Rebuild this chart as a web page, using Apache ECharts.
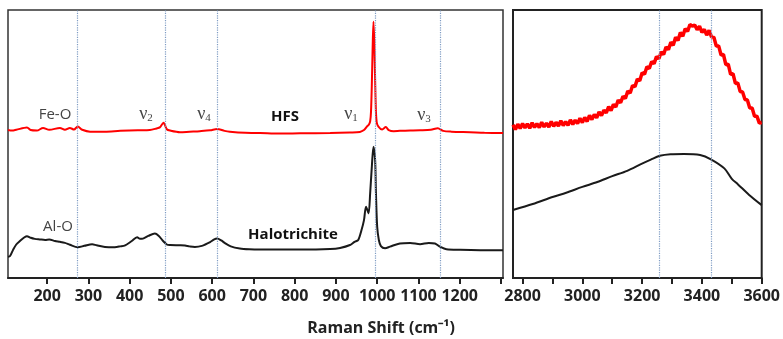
<!DOCTYPE html>
<html><head><meta charset="utf-8">
<script src="https://cdn.jsdelivr.net/npm/echarts@6/dist/echarts.min.js"></script>
<style>html,body{margin:0;padding:0;background:#fff}#c{width:783px;height:339px}</style>
</head><body><div id="c"></div>
<script>
// ---- data (x in cm^-1, y in arbitrary intensity units) ----
const hfsLeftX = [105,115,125,151,160,175,190,205,231,243,255,265,274,285,304,340,377,420,449,465,473,482,490,498,522,545,570,595,612,630,643,680,716,764,813,886,934,958,968,975,980,983,985,987,989,991,993,995,997,999,1003,1012,1021,1028,1040,1055,1080,1104,1130,1147,1160,1180,1225,1260,1305];
const hfsLeftY = [55.2,55.0,55.3,56.2,55.2,55.0,56.0,55.3,56.0,55.3,56.0,55.4,56.5,55.3,54.6,54.6,54.9,55.1,55.2,55.8,56.2,57.9,55.5,55.0,54.4,54.6,54.8,55.1,55.6,54.9,54.6,54.2,54.1,53.9,54.0,54.1,54.3,54.5,55.2,56.5,57.3,58.5,62,72,86,95.6,88,74,62,58,56.5,55.4,56.3,55.2,54.8,54.9,55.0,55.1,55.3,55.9,54.9,54.6,54.4,54.2,54.1];
const haloLeftX = [105,110,117,125,134,145,151,160,170,182,195,205,219,231,243,255,274,290,309,320,340,364,377,389,405,418,425,432,445,461,470,481,490,498,522,534,545,558,575,595,605,612,622,631,645,667,690,716,764,813,886,910,934,945,954,962,968,973,979,983,987,991,995,997,1000,1004,1009,1019,1031,1055,1080,1104,1125,1140,1152,1168,1201,1250,1305];
const haloLeftY = [7.9,8.2,10.4,12.5,13.8,15.2,15.6,15.0,14.6,14.4,14.2,14.4,13.8,13.5,13.1,12.4,11.5,12.0,12.6,12.2,11.6,11.5,11.8,12.2,13.8,15.2,14.6,14.7,15.7,16.6,15.8,13.8,12.5,12.3,12.2,12.1,11.8,11.6,12.0,13.4,14.4,14.7,14.0,13.0,11.8,11.0,10.7,10.6,10.6,10.6,10.8,11.2,12.3,13.5,14.2,17.9,21.6,26.6,24.1,31.7,41.5,49.0,44.0,31.7,19.1,14.2,11.9,11.1,11.7,12.9,13.1,12.6,13.1,12.9,11.7,10.7,10.5,10.4,10.4];
const hfsRightX = [2768,2776,2784,2792,2800,2808,2816,2824,2832,2840,2848,2856,2864,2872,2880,2888,2896,2904,2912,2920,2928,2936,2944,2952,2960,2968,2976,2984,2992,3000,3008,3016,3024,3032,3040,3048,3056,3064,3072,3080,3088,3096,3104,3112,3120,3128,3136,3144,3152,3160,3168,3176,3184,3192,3200,3208,3216,3224,3232,3240,3248,3256,3264,3272,3280,3288,3296,3304,3312,3320,3328,3336,3344,3352,3360,3368,3376,3384,3392,3400,3408,3416,3424,3432,3440,3448,3456,3464,3472,3480,3488,3496,3504,3512,3520,3528,3536,3544,3552,3560,3568,3576,3584,3592,3600];
const hfsRightY = [57.2,55.4,57.4,55.8,57.6,56.0,57.5,55.9,57.9,56.2,57.6,56.1,58.1,56.4,57.8,56.3,58.4,56.6,58.1,56.7,58.7,56.9,58.3,57.0,59.0,57.3,58.9,57.6,59.6,58.0,59.9,58.4,60.7,59.1,61.0,59.8,62.0,60.6,62.6,61.6,63.9,62.5,64.8,63.8,66.4,65.4,67.8,67.0,69.8,69.0,71.8,71.4,74.2,73.6,76.6,76.0,78.8,78.2,80.8,80.0,82.6,81.8,84.4,83.4,86.2,85.2,88.0,86.8,89.8,88.6,91.6,90.2,93.0,92.0,94.6,94.0,94.4,92.6,94.0,91.6,92.8,90.6,92.4,90.0,89.8,86.6,86.6,83.2,83.4,79.6,79.8,76.0,76.2,72.6,72.8,69.6,69.4,66.6,66.4,63.4,63.4,60.4,60.4,57.8,58.0];
const haloRightX = [2768,2834,2900,2946,3000,3050,3100,3150,3196,3229,3259,3295,3340,3394,3430,3475,3500,3520,3558,3600];
const haloRightY = [25.4,27.6,30.2,31.8,34.0,35.8,38.0,40.0,42.5,44.2,45.6,46.2,46.3,45.9,44.3,40.9,37.0,35.0,31.0,27.2];
const leftBands = [274, 487, 612, 995, 1152];
const rightBands = [3258, 3430];
const leftTicks = [200,300,400,500,600,700,800,900,1000,1100,1200,1300];
const leftLabels = [200,300,400,500,600,700,800,900,1000,1100,1200];
const rightTicks = [2800,2900,3000,3100,3200,3300,3400,3500,3600];
const rightLabels = [2800,3000,3200,3400,3600];
const annotations = [
  {text:'Fe-O', x:55, y:115, bold:false},
  {text:'{v|ν}{s|2}', x:146, y:114, bold:false},
  {text:'{v|ν}{s|4}', x:204, y:114, bold:false},
  {text:'HFS', x:285, y:117, bold:true},
  {text:'{v|ν}{s|1}', x:351, y:114, bold:false},
  {text:'{v|ν}{s|3}', x:424, y:115, bold:false},
  {text:'Al-O', x:58, y:227, bold:false},
  {text:'Halotrichite', x:293, y:235, bold:true}
];
const xTitle = 'Raman Shift (cm⁻¹)';

const zip = (a,b) => a.map((v,i)=>[v,b[i]]);
const labelFont = {fontFamily:'Open Sans', fontSize:16, fontWeight:'bold', color:'#222'};
function xAxisFor(idx, min, max, ticks, labels){
  return {type:'value', gridIndex:idx, min, max,
    axisLine:{show:true, onZero:false, lineStyle:{color:'#222', width:2}},
    axisTick:{show:true, customValues:ticks, length:6, lineStyle:{color:'#222', width:2}},
    axisLabel:Object.assign({customValues:labels, margin:10, formatter:v=>String(v)}, labelFont),
    splitLine:{show:false}};
}
function yAxisFor(idx){
  return {type:'value', gridIndex:idx, min:0, max:100, show:false, splitLine:{show:false}};
}
function bandLines(vals){
  return {silent:true, symbol:'none', label:{show:false},
    lineStyle:{type:'dotted', color:'#7f9cc4', width:1.2},
    data: vals.map(v=>({xAxis:v}))};
}
const chart = echarts.init(document.getElementById('c'), null, {renderer:'canvas'});
chart.setOption({
  backgroundColor:'#fff',
  animation:false,
  grid:[
    {left:8, top:10, width:495, height:268, containLabel:false, show:true, borderColor:'#333', borderWidth:1.5},
    {left:513, top:10, width:253, height:268, containLabel:false, show:true, borderColor:'#222', borderWidth:2}
  ],
  xAxis:[xAxisFor(0,105,1305,leftTicks,leftLabels), xAxisFor(1,2768,3600,rightTicks,rightLabels)],
  yAxis:[yAxisFor(0), yAxisFor(1)],
  series:[
    {type:'line', xAxisIndex:0, yAxisIndex:0, data:zip(haloLeftX,haloLeftY), showSymbol:false, smooth:0.3,
      lineStyle:{color:'#1a1a1a', width:2}, markLine:bandLines(leftBands), z:3},
    {type:'line', xAxisIndex:0, yAxisIndex:0, data:zip(hfsLeftX,hfsLeftY), showSymbol:false, smooth:0.3,
      lineStyle:{color:'#ff0000', width:2}, z:3},
    {type:'line', xAxisIndex:1, yAxisIndex:1, data:zip(haloRightX,haloRightY), showSymbol:false, smooth:0.3,
      lineStyle:{color:'#1a1a1a', width:2}, markLine:bandLines(rightBands), z:3},
    {type:'line', xAxisIndex:1, yAxisIndex:1, data:zip(hfsRightX,hfsRightY), showSymbol:false,
      lineStyle:{color:'#ff0000', width:3.5}, z:3}
  ],
  graphic: annotations.map(a=>({type:'text', x:a.x, y:a.y, z:10,
    style:{text:a.text, align:'center', verticalAlign:'middle',
      font: a.bold ? 'bold 15px "Open Sans"' : '15px "Open Sans"', fill: a.bold ? '#111' : '#444',
      rich:{v:{fontFamily:'Liberation Serif', fontSize:18, fill:'#444'}, s:{fontFamily:'Liberation Serif', fontSize:11, fill:'#444', padding:[8,0,0,0]}}}
  })).concat([{type:'text', x:381, y:328, style:{text:xTitle, align:'center', verticalAlign:'middle', font:'bold 16px "Open Sans"', fill:'#222'}}])
});
</script></body></html>
